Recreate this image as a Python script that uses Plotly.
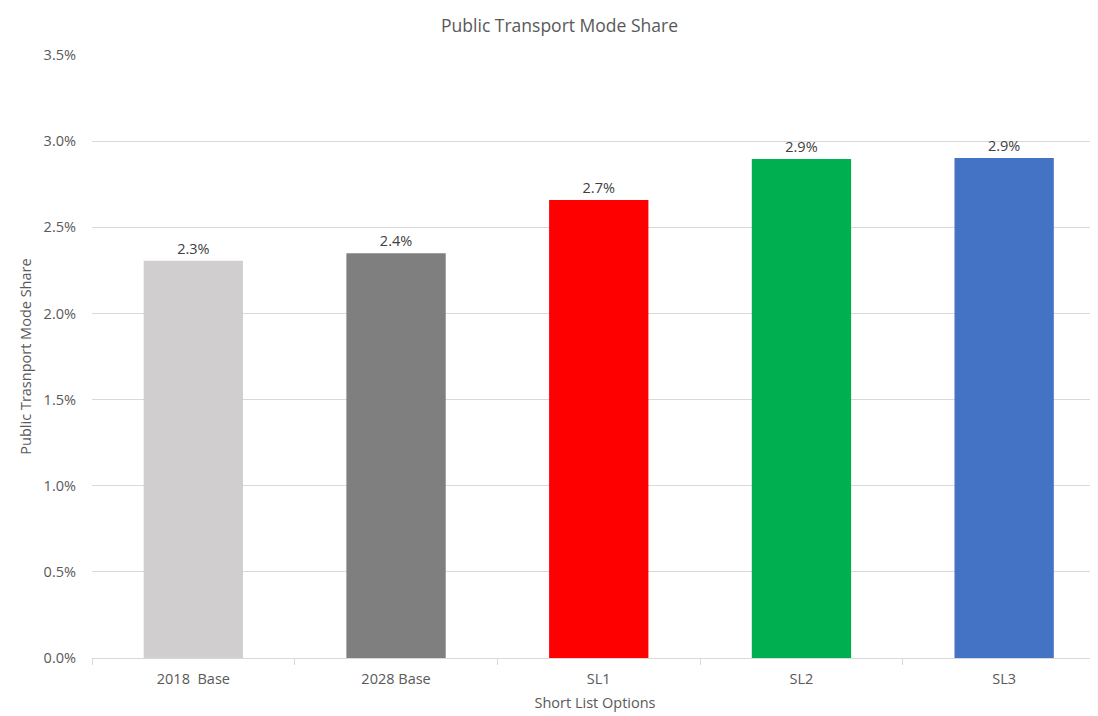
import plotly.graph_objects as go

categories = ["2018  Base", "2028 Base", "SL1", "SL2", "SL3"]
mode_share = [0.02306, 0.02350, 0.02658, 0.02896, 0.02902]
bar_colors = ["#d0cece", "#7f7f7f", "#ff0000", "#00b050", "#4472c4"]
y_ticks = [0, 0.005, 0.01, 0.015, 0.02, 0.025, 0.03, 0.035]

font_family = "Open Sans, Lato, sans-serif"

fig = go.Figure(
    go.Bar(
        x=categories,
        y=mode_share,
        marker=dict(color=bar_colors, line=dict(width=0)),
        text=[f"{v*100:.1f}%" for v in mode_share],
        textposition="outside",
        textfont=dict(size=14.5, color="#404040", family=font_family),
        cliponaxis=False,
    )
)

fig.update_layout(
    width=1090,
    height=708,
    paper_bgcolor="white",
    plot_bgcolor="white",
    margin=dict(l=84, r=0, t=47, b=58),
    bargap=0.51,
    showlegend=False,
    font=dict(family=font_family, color="#595959", size=14.5),
    title=dict(
        text="Public Transport Mode Share",
        x=0.506,
        xanchor="center",
        y=0.975,
        yanchor="middle",
        font=dict(size=17.5, color="#595959", family=font_family),
    ),
)

fig.update_xaxes(
    type="category",
    range=[-0.5, 4.463],
    showgrid=False,
    showline=True,
    linecolor="#d9d9d9",
    linewidth=1,
    ticks="outside",
    tickson="boundaries",
    ticklen=6,
    tickcolor="#d9d9d9",
    ticklabelstandoff=8,
    tickfont=dict(size=14.5, color="#595959"),
    title=dict(text="Short List Options", font=dict(size=14.5, color="#595959"), standoff=10),
    automargin=False,
)

fig.update_yaxes(
    range=[0, 0.035],
    tickvals=y_ticks,
    tickformat=".1%",
    showgrid=True,
    gridcolor="#d9d9d9",
    gridwidth=1,
    zeroline=False,
    showline=False,
    ticks="",
    ticklabelstandoff=15,
    tickfont=dict(size=14.5, color="#595959"),
    title=dict(text="Public Trasnport Mode Share", font=dict(size=14.5, color="#595959"), standoff=8),
    automargin=False,
)

fig.write_html("out.html")
